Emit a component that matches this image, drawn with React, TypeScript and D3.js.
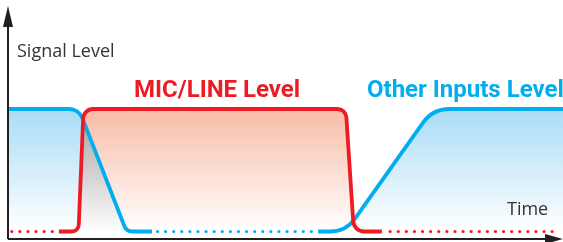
import React, { useEffect, useRef } from 'react';
import * as d3 from 'd3';

// time runs 0..100 across the plot, level 0 (off) .. 1 (full)
const blueSolidA: [number, number][] = [[0, 1], [12.6, 1], [21.2, 0], [25.8, 0]];
const blueDotted: [number, number][] = [[26.8, 0], [55.0, 0]];
const blueSolidB: [number, number][] = [[55.8, 0], [60.8, 0], [76.5, 1], [100, 1]];

const redDottedA: [number, number][] = [[0.5, 0], [8.0, 0]];
const redSolid: [number, number][] = [[9.0, 0], [12.55, 0], [13.45, 1], [60.8, 1], [62.25, 0], [67.3, 0]];
const redDottedB: [number, number][] = [[68.8, 0], [99.5, 0]];

const labels = { y: 'Signal Level', x: 'Time', red: 'MIC/LINE Level', blue: 'Other Inputs Level' };

const W = 563;
const H = 242;
const RED = '#ed1c24';
const BLUE = '#00aeef';

// corner radii, one per interior point
const blueRadiiA = [14, 9];
const blueRadiiB = [30, 32];
const redRadii = [7, 10, 9, 11];

function rounded(pts: [number, number][], radii: number[]) {
  const p = d3.path();
  p.moveTo(pts[0][0], pts[0][1]);
  for (let i = 1; i < pts.length - 1; i++) {
    p.arcTo(pts[i][0], pts[i][1], pts[i + 1][0], pts[i + 1][1], radii[i - 1]);
  }
  p.lineTo(pts[pts.length - 1][0], pts[pts.length - 1][1]);
  return p.toString();
}

export default function App() {
  const ref = useRef<SVGSVGElement>(null);

  useEffect(() => {
    const svg = d3.select(ref.current);
    svg.selectAll('*').remove();

    const x = d3.scaleLinear().domain([0, 100]).range([9, 563]);
    const y = d3.scaleLinear().domain([0, 1]).range([231.5, 109]);
    const px = (d: [number, number][]) => d.map(([t, v]) => [x(t), y(v)] as [number, number]);

    const defs = svg.append('defs');
    const grad = (id: string, top: string) => {
      const g = defs.append('linearGradient')
        .attr('id', id)
        .attr('gradientUnits', 'userSpaceOnUse')
        .attr('x1', 0).attr('x2', 0)
        .attr('y1', y(1)).attr('y2', y(0));
      g.append('stop').attr('offset', 0).attr('stop-color', top);
      g.append('stop').attr('offset', 1).attr('stop-color', '#ffffff');
    };
    grad('gBlue', '#a9dcf6');
    grad('gRed', '#f8bca6');

    const area = (pts: [number, number][], radii: number[]) => {
      const first = pts[0];
      const last = pts[pts.length - 1];
      return rounded(pts, radii) + `L${last[0]},${y(0)}L${first[0]},${y(0)}Z`;
    };

    // fills under the solid parts, red multiplied over blue so the overlap goes grey
    const fills = svg.append('g');
    fills.append('path').attr('d', area(px(blueSolidA).slice(0, 3), blueRadiiA)).attr('fill', 'url(#gBlue)');
    fills.append('path').attr('d', area(px(blueSolidB).slice(1), blueRadiiB.slice(1)))
      .attr('fill', 'url(#gBlue)');
    fills.append('path').attr('d', area(px(redSolid).slice(1, 5), redRadii.slice(1, 3)))
      .attr('fill', 'url(#gRed)')
      .style('mix-blend-mode', 'multiply');

    // axes
    const axis = svg.append('g').attr('fill', '#231f20').attr('stroke', '#231f20');
    axis.append('line').attr('x1', 8).attr('x2', 8).attr('y1', 239).attr('y2', 20).attr('stroke-width', 2);
    axis.append('path').attr('d', 'M8,6L13,27L3,27Z').attr('stroke', 'none');
    axis.append('line').attr('x1', 8).attr('x2', 550).attr('y1', 239).attr('y2', 239).attr('stroke-width', 2);
    axis.append('path').attr('d', 'M563,239L545,234L545,244Z').attr('stroke', 'none');

    const lines = svg.append('g').attr('fill', 'none').attr('stroke-width', 3.8);
    const dotted = (d: [number, number][], c: string) =>
      lines.append('path').attr('d', rounded(px(d), []))
        .attr('stroke', c).attr('stroke-width', 3.2)
        .attr('stroke-linecap', 'round').attr('stroke-dasharray', '0 8.1');

    lines.append('path').attr('d', rounded(px(blueSolidA), blueRadiiA)).attr('stroke', BLUE);
    lines.append('path').attr('d', rounded(px(blueSolidB), blueRadiiB)).attr('stroke', BLUE);
    dotted(blueDotted, BLUE);
    lines.append('path').attr('d', rounded(px(redSolid), redRadii)).attr('stroke', RED);
    dotted(redDottedA, RED);
    dotted(redDottedB, RED);

    const text = svg.append('g');
    text.append('text').attr('x', 17).attr('y', 57).text(labels.y)
      .attr('font-family', '"Open Sans"').attr('font-size', 18).attr('fill', '#333');
    text.append('text').attr('x', 507).attr('y', 215).text(labels.x)
      .attr('font-family', '"Open Sans"').attr('font-size', 18).attr('fill', '#333');
    text.append('text').attr('x', 134).attr('y', 96.5).text(labels.red)
      .attr('font-family', 'Roboto').attr('font-weight', 700).attr('font-size', 24).attr('fill', RED);
    text.append('text').attr('x', 367).attr('y', 96.5).text(labels.blue)
      .attr('font-family', 'Roboto').attr('font-weight', 700).attr('font-size', 24).attr('fill', BLUE);
  }, []);

  return (
    <svg ref={ref} width={W} height={H}
      style={{ position: 'absolute', left: 0, top: 0, display: 'block', background: '#fff' }} />
  );
}
